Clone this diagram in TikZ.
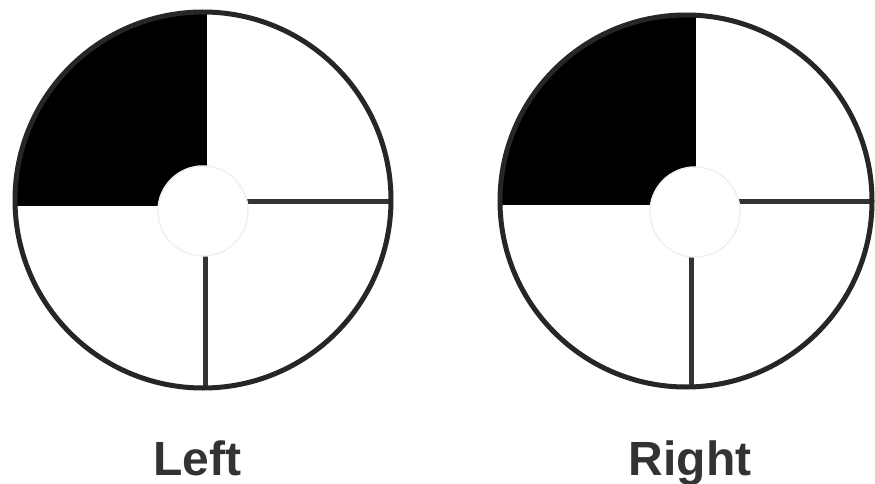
\documentclass[tikz,border=0pt]{standalone}
\usepackage{fontspec}
\setmainfont{Liberation Sans}
\begin{document}
\begin{tikzpicture}[x=1pt,y=-1pt,
  ring/.style={line width=5pt, draw=black!85},
  spoke/.style={line width=5pt, draw=black!80},
  hub/.style={fill=white, draw=black!6, line width=1.5pt},
  lbl/.style={font=\fontsize{48}{48}\selectfont\bfseries, text=black!80, inner sep=0pt, anchor=base}]
\useasboundingbox[fill=white] (0,0) rectangle (875,484);
% ---- left target
\coordinate (lc) at (203,200);
\begin{scope}
  \clip (lc) circle [radius=188pt];
  \fill[black] (0,0) rectangle (207,206);
  \draw[spoke] (205,210) -- (205,400);
  \draw[spoke] (205,201) -- (400,201);
\end{scope}
\draw[ring] (lc) circle [radius=188pt];
\fill[hub] (203,211) circle [radius=45pt];
% ---- right target
\coordinate (rc) at (686,201);
\begin{scope}
  \clip (rc) circle [radius=186pt];
  \fill[black] (480,0) rectangle (696,205);
  \draw[spoke] (691,210) -- (691,400);
  \draw[spoke] (691,201) -- (880,201);
\end{scope}
\draw[ring] (rc) circle [radius=186pt];
\fill[hub] (695,212) circle [radius=45pt];
% ---- labels
\node[lbl] (left) at (197,475) {Left};
\node[lbl] (right) at (690,475) {Right};
\end{tikzpicture}
\end{document}
